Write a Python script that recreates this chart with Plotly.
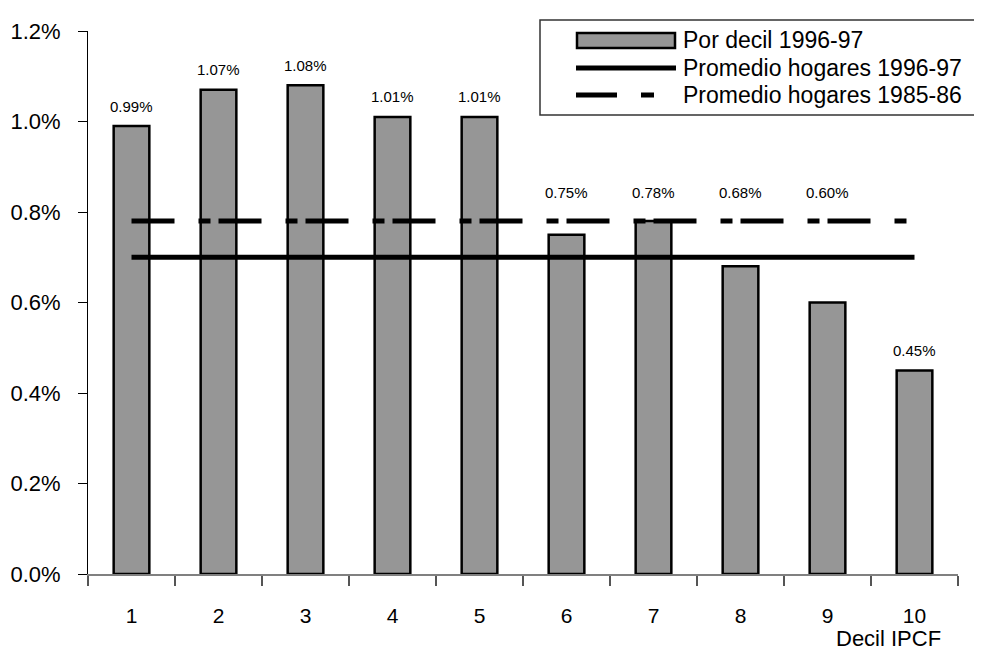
import plotly.graph_objects as go

deciles = ["1", "2", "3", "4", "5", "6", "7", "8", "9", "10"]
por_decil = [0.0099, 0.0107, 0.0108, 0.0101, 0.0101, 0.0075, 0.0078, 0.0068, 0.0060, 0.0045]
prom_1996 = 0.0070
prom_1985 = 0.0078
y_ticks = [0.0, 0.002, 0.004, 0.006, 0.008, 0.010, 0.012]
legend_names = ["Por decil 1996-97", "Promedio hogares 1996-97", "Promedio hogares 1985-86"]
x_title = "Decil IPCF"

FONT = "Liberation Sans, Arial, sans-serif"
GRAY = "#969696"
DASH = "43px,24px,12px,8px"

fig = go.Figure()
fig.add_trace(go.Bar(
    x=deciles, y=por_decil, width=0.41,
    marker=dict(color=GRAY, line=dict(color="black", width=2.5)),
    showlegend=False, hoverinfo="skip",
))
fig.add_trace(go.Scatter(
    x=deciles, y=[prom_1996] * len(deciles), mode="lines",
    line=dict(color="black", width=5), showlegend=False,
))
fig.add_trace(go.Scatter(
    x=deciles, y=[prom_1985] * len(deciles), mode="lines",
    line=dict(color="black", width=5, dash=DASH), showlegend=False,
))

# data labels (x given as category index)
for i, v in enumerate(por_decil):
    if 0.005 <= v < 0.009:
        y = prom_1985
        shift = 29
    else:
        y = v
        shift = 20
    fig.add_annotation(x=i, y=y, text=f"{v*100:.2f}%", showarrow=False,
                       yshift=shift, xref="x", yref="y",
                       font=dict(family=FONT, size=15, color="black"))

# page offset compensation (body margin of 8px)
OFF = 8
L, R, T, B = 88, 958, 31, 574
W, H = 982 - OFF, 651 - OFF


def px(xp):
    return (xp - L) / (R - L)


def py(yp):
    return (B - yp) / (B - T)


# axis title at bottom right
fig.add_annotation(x=px(943), y=py(638), xref="paper", yref="paper",
                   xanchor="right", yanchor="middle", text=x_title,
                   showarrow=False, font=dict(family=FONT, size=22, color="black"))

# manual legend
shapes = []
shapes.append(dict(type="rect", xref="paper", yref="paper",
                   x0=px(540), x1=px(980), y0=py(115), y1=py(20),
                   line=dict(color="#333333", width=1.5), fillcolor="white", layer="above"))
shapes.append(dict(type="rect", xref="paper", yref="paper",
                   x0=px(577), x1=px(675), y0=py(48), y1=py(33),
                   line=dict(color="black", width=2.5), fillcolor=GRAY, layer="above"))
shapes.append(dict(type="line", xref="paper", yref="paper",
                   x0=px(576), x1=px(676), y0=py(68), y1=py(68),
                   line=dict(color="black", width=5), layer="above"))
shapes.append(dict(type="line", xref="paper", yref="paper",
                   x0=px(576), x1=px(654), y0=py(95), y1=py(95),
                   line=dict(color="black", width=5, dash="41px,24px,13px,8px"), layer="above"))
fig.update_layout(shapes=shapes)
for name, ypix in zip(legend_names, [40, 68, 95]):
    fig.add_annotation(x=px(681), y=py(ypix), xref="paper", yref="paper",
                       xanchor="left", yanchor="middle", text=name, showarrow=False,
                       font=dict(family=FONT, size=23, color="black"))

fig.update_layout(
    width=W, height=H,
    margin=dict(l=L - OFF, r=982 - R, t=T - OFF, b=651 - B, autoexpand=False),
    plot_bgcolor="white", paper_bgcolor="white",
    font=dict(family=FONT, color="black"),
    xaxis=dict(
        type="category", tickson="boundaries", ticks="outside", ticklen=10,
        tickcolor="#555555", tickwidth=1.5, showline=True, linecolor="#808080",
        linewidth=1.5, showgrid=False, zeroline=False,
        tickfont=dict(family=FONT, size=21, color="black"),
        ticklabelstandoff=22, range=[-0.5, 9.5],
    ),
    yaxis=dict(
        range=[0, 0.012], tickvals=y_ticks, tickformat=".1%",
        ticks="outside", ticklen=9, tickcolor="black", tickwidth=1,
        showline=True, linecolor="black", linewidth=1, showgrid=False,
        zeroline=False, tickfont=dict(family=FONT, size=22, color="black"),
        ticklabelstandoff=13,
    ),
)

fig.write_html("out.html")
